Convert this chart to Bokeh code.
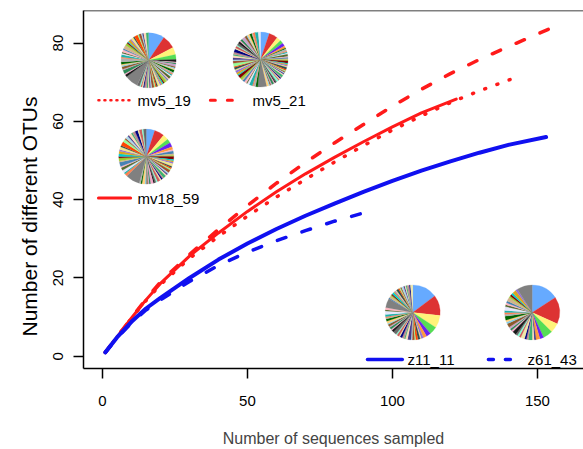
import math
from bokeh.plotting import figure
from bokeh.models import Span, Range1d, FixedTicker, Title
from bokeh.core.properties import value
from bokeh.embed import file_html
from bokeh.resources import INLINE

# ---------------- rarefaction curves (sequences sampled -> OTUs) ----------------
mv5_19_x = [1, 5, 10, 15, 20, 30, 40, 50, 60, 70, 80, 90, 100, 110, 120, 130, 141]
mv5_19_y = [1, 4.9, 9.7, 14.2, 18.3, 25.0, 30.6, 35.8, 40.7, 45.2, 49.6, 53.8, 57.8, 61.4, 64.8, 67.8, 70.8]

mv5_21_x = [1, 5, 10, 15, 20, 30, 40, 50, 60, 70, 80, 90, 100, 110, 120, 130, 140, 155]
mv5_21_y = [1, 4.9, 9.8, 14.6, 19.0, 26.0, 32.4, 38.5, 44.2, 49.5, 54.5, 59.2, 63.9, 68.2, 72.2, 75.8, 79.1, 83.9]

mv18_59_x = [1, 5, 10, 15, 20, 30, 40, 50, 60, 70, 80, 90, 100, 110, 122]
mv18_59_y = [1, 4.9, 9.8, 14.4, 18.6, 25.6, 31.5, 37.0, 42.0, 46.6, 50.8, 54.8, 58.6, 62.2, 65.7]

z11_11_x = [1, 5, 10, 15, 20, 30, 40, 50, 60, 70, 80, 90, 100, 110, 120, 130, 140, 153]
z11_11_y = [1, 4.8, 8.8, 12.2, 14.9, 20.0, 24.7, 28.8, 32.5, 35.9, 39.0, 42.0, 44.8, 47.4, 49.8, 52.0, 54.0, 56.0]

z61_43_x = [1, 5, 10, 15, 20, 30, 40, 50, 60, 70, 80, 90]
z61_43_y = [1, 4.7, 8.5, 11.8, 14.4, 19.1, 23.2, 26.6, 29.5, 32.1, 34.5, 36.6]

x_ticks = [0, 50, 100, 150]
y_ticks = [0, 20, 40, 60, 80]

# ---------------- OTU abundance per sample (pie slices, clockwise from top) ----------------
mv5_19_major = [13, 11, 6, 4]
mv5_19_mid = [2, 1, 1, 2, 1, 1, 1, 2, 1, 1, 1, 1, 2, 1, 1, 1, 2, 1, 1, 1,
              1, 2, 1, 1, 1, 2, 1, 1, 1, 1, 2, 1, 1, 1, 1, 2]
mv5_19_gray = 11
mv5_19_rest = [2, 1, 3, 1, 2, 1, 1, 2, 3, 1, 2, 1, 1, 2, 1, 3, 2, 1, 1, 2,
               1, 2, 1, 3, 1, 2, 1, 1, 2, 2]

mv5_21_major = [8, 8, 4, 3, 3, 2]
mv5_21_mid = [1, 2, 1, 1, 1, 2, 1, 1, 1, 1, 2, 1, 1, 1, 1, 2, 1, 1, 1, 1,
              1, 1, 2, 1, 1, 1, 1, 2, 1, 1, 1, 2, 1, 1, 1, 2]
mv5_21_gray = 8
mv5_21_rest = [2, 2, 1, 3, 2, 1, 2, 2, 1, 2, 3, 1, 2, 2, 1, 2, 1, 3, 2, 1,
               2, 2, 1, 2, 3, 1, 2, 1, 2, 2, 1, 2, 3, 2, 1, 2, 2, 1, 2, 3, 2]

mv18_59_major = [6, 7, 4, 3, 3, 2]
mv18_59_mid = [1, 2, 1, 1, 2, 1, 1, 1, 2, 1, 1, 1, 2, 1, 1, 1, 2, 1, 1, 1,
               2, 1, 1, 1, 2, 1, 1, 1, 1, 2, 1, 1]
mv18_59_gray = 10
mv18_59_rest = [2, 1, 2, 2, 1, 3, 1, 2, 1, 2, 2, 1, 2, 1, 3, 2, 1, 2, 1, 2,
                1, 2, 2, 1, 2, 1, 2]

z11_11_major = [22, 18, 11, 7, 4, 3]
z11_11_mid = [2, 1, 2, 2, 1, 2, 1, 3, 2, 1, 2, 2, 1, 2, 1, 3, 2, 1, 2, 1,
              2, 1, 2, 2, 1, 1, 2, 3, 1, 2]
z11_11_gray = 8
z11_11_rest = [1, 2, 1, 1, 2, 1, 1, 1, 2, 1, 1, 1, 2, 1, 1, 1, 2, 1, 2]

z61_43_major = [14, 14, 5, 5, 2, 2]
z61_43_mid = [1, 1, 2, 1, 1, 2, 1, 1, 1, 2, 1, 1, 1, 2, 1, 1, 2, 1, 1, 1,
              2, 1, 1, 1, 2, 1, 1, 1, 2, 1]
z61_43_gray = 8
z61_43_rest = []

# ---------------- styles ----------------
MAJOR_COLORS = ["#66AAFF", "#DD3333", "#FFF37A", "#55DD55", "#6A22F0", "#FF9A3C"]
MINOR_COLORS = ["#1A1A1A", "#F4A6C8", "#2E8B57", "#C8A2C8", "#8B5A2B", "#87CEEB",
                "#FFD27F", "#006400", "#B0B0B0", "#FF7F50", "#20B2AA", "#E6E6FA",
                "#556B2F", "#FFB6C1", "#4682B4", "#D2B48C", "#9ACD32", "#800000",
                "#00CED1", "#DAA520", "#9370DB", "#F0E68C", "#2F4F4F", "#FF4500",
                "#98FB98", "#A0522D", "#ADD8E6", "#483D8B", "#FFDAB9", "#3CB371",
                "#BC8F8F", "#000080", "#EEE8AA", "#CD5C5C", "#7FFFD4", "#696969"]
GRAY = "#808080"
RED = "#FF1A1A"
BLUE = "#1010F0"
FONT = "Liberation Sans"
PIE_R = 27.5
Y_LO, Y_HI = -3.13, 88.33

p = figure(width=583, height=449,
           x_range=Range1d(-6.55, 165.9), y_range=Range1d(Y_LO, Y_HI),
           output_backend="svg", toolbar_location=None,
           min_border_left=83, min_border_right=0, min_border_top=10, min_border_bottom=80)
p.xgrid.visible = False
p.ygrid.visible = False
p.outline_line_color = None
p.background_fill_color = "white"

for ax in (p.xaxis[0], p.yaxis[0]):
    ax.axis_line_color = "black"
    ax.axis_line_width = 1.5
    ax.major_tick_line_color = "black"
    ax.major_tick_line_width = 1.5
    ax.major_tick_out = 10
    ax.major_tick_in = 0
    ax.minor_tick_line_color = None
    ax.major_label_text_font = FONT
    ax.major_label_text_font_size = "15px"
    ax.major_label_text_color = "black"

p.xaxis[0].ticker = FixedTicker(ticks=x_ticks)
p.yaxis[0].ticker = FixedTicker(ticks=y_ticks)
p.xaxis[0].major_label_standoff = 17
p.yaxis[0].major_label_standoff = 10
p.yaxis[0].major_label_orientation = "vertical"
p.xaxis[0].axis_label = "Number of sequences sampled"
p.xaxis[0].axis_label_text_font = FONT
p.xaxis[0].axis_label_text_font_size = "16px"
p.xaxis[0].axis_label_text_font_style = "normal"
p.xaxis[0].axis_label_standoff = 21

# y-axis title (sits a little below the frame centre in the reference)
p.add_layout(Title(text="Number of different OTUs", align="left", offset=32,
                   vertical_align="top",
                   text_font=FONT, text_font_size="21px", text_font_style="normal",
                   text_color="black", standoff=16), "left")

p.add_layout(Span(location=Y_HI, dimension="width", line_color="black", line_width=1.5))

# curves
p.line(mv5_19_x, mv5_19_y, line_color=RED, line_width=3.5, line_dash="1 12", line_cap="round")
p.line(mv5_21_x, mv5_21_y, line_color=RED, line_width=3.5, line_dash="9 17", line_cap="round")
p.line(mv18_59_x, mv18_59_y, line_color=RED, line_width=3, line_cap="round")
p.line(z11_11_x, z11_11_y, line_color=BLUE, line_width=4, line_cap="round")
p.line(z61_43_x, z61_43_y, line_color=BLUE, line_width=3.5, line_dash="9 17", line_cap="round")


def draw_pie(cx, cy, major, mid, gray, rest, offset):
    counts = major + mid + [gray] + rest
    colors = (MAJOR_COLORS[:len(major)]
              + [MINOR_COLORS[(offset + i) % len(MINOR_COLORS)] for i in range(len(mid))]
              + [GRAY]
              + [MINOR_COLORS[(offset + len(mid) + i) % len(MINOR_COLORS)] for i in range(len(rest))])
    total = float(sum(counts))
    starts, ends = [], []
    cum = 0.0
    for c in counts:
        t1 = cum / total * 2 * math.pi
        cum += c
        t2 = cum / total * 2 * math.pi
        starts.append(math.pi / 2 - t2)
        ends.append(math.pi / 2 - t1)
    n = len(counts)
    p.wedge(x=[cx] * n, y=[cy] * n, radius=PIE_R, radius_units="screen",
            start_angle=starts, end_angle=ends, direction="anticlock",
            fill_color=colors, line_color=colors, line_width=0.2)


draw_pie(15.9, 75.6, mv5_19_major, mv5_19_mid, mv5_19_gray, mv5_19_rest, 0)
draw_pie(54.5, 75.8, mv5_21_major, mv5_21_mid, mv5_21_gray, mv5_21_rest, 7)
draw_pie(15.1, 51.0, mv18_59_major, mv18_59_mid, mv18_59_gray, mv18_59_rest, 13)
draw_pie(107.0, 11.2, z11_11_major, z11_11_mid, z11_11_gray, z11_11_rest, 20)
draw_pie(148.2, 11.2, z61_43_major, z61_43_mid, z61_43_gray, z61_43_rest, 27)

# legends
legend_names = ["mv5_19", "mv5_21", "mv18_59", "z11_11", "z61_43"]
leg_line_x = [(-1.4, 9.7), (37.2, 48.3), (-1.4, 9.7), (91.4, 103.4), (133.1, 144.1)]
leg_y = [65.4, 65.4, 40.4, -0.84, -0.84]
leg_text_x = [12.1, 51.7, 12.1, 105.2, 146.6]
leg_styles = [(RED, "1 5", 2.5), (RED, "5 12", 3), (RED, "solid", 3), (BLUE, "solid", 3.5), (BLUE, "5 12", 3.5)]
for (x0, x1), yy, (col, dash, lw) in zip(leg_line_x, leg_y, leg_styles):
    p.line([x0, x1], [yy, yy], line_color=col, line_width=lw, line_dash=dash, line_cap="round")
p.text(x=leg_text_x, y=leg_y, text=legend_names, text_font=value(FONT), text_font_size="15px",
       text_align="left", text_baseline="middle", text_color="black")

open("out.html", "w").write(file_html(p, INLINE))
